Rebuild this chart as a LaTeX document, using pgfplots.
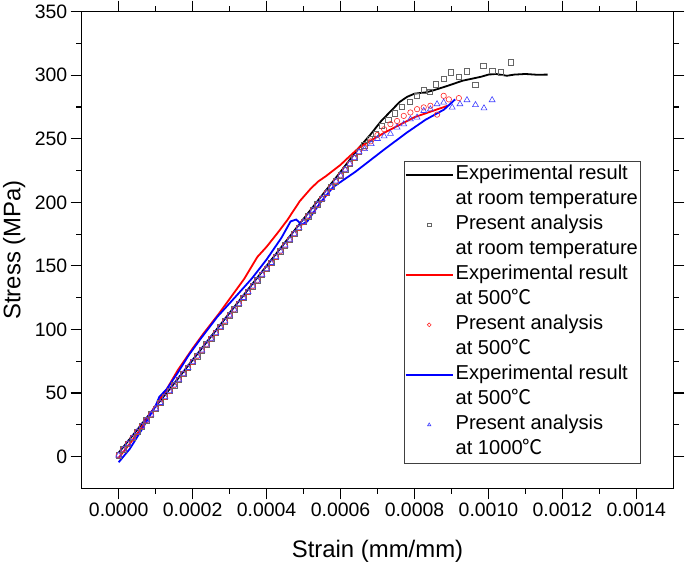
\documentclass[border=0pt]{standalone}
\usepackage{pgfplots}
\pgfplotsset{compat=1.18}
\usepackage{pgfplotstable}
\usepackage{fontspec}
\setmainfont{Liberation Sans}
\newfontfamily\cjk{Noto Sans CJK SC}
\newcommand{\degC}{{\cjk ℃}}

% Experimental result at room temperature
\pgfplotstableread{
x y
0 3
0.00005 21
0.0001 39.5
0.00015 57.5
0.0002 76
0.00025 94.5
0.0003 113
0.00035 131.5
0.0004 150
0.00045 168.5
0.0005 187
0.00055 205.5
0.0006 224
0.00065 243
0.00068 253
0.00071 264
0.00073 270
0.00076 279
0.00078 283
0.0008 285.5
0.00083 286.5
0.00085 288
0.00089 291.7
0.00093 295.7
0.00098 298.8
0.001 300.5
0.00102 301
0.00105 299.6
0.00107 300.5
0.0011 301
0.00113 300.4
0.00116 300.5
}\expRT

% Experimental result at 500 C (red)
\pgfplotstableread{
x y
0 -1
0.00003 10
0.00006 22
0.0001 40
0.00013 53
0.00016 68
0.0002 85
0.00023 97
0.00027 112
0.00031 128
0.00034 140
0.000375 157
0.0004 165
0.00043 176
0.000456 186
0.00049 201
0.00052 211
0.00054 216.5
0.00056 220.5
0.00058 225
0.0006 229.5
0.00062 235
0.00065 243
0.00069 250
0.00072 255
0.00076 261
0.0008 267
0.00084 271
0.00089 276
}\expFive

% Experimental result (blue)
\pgfplotstableread{
x y
0 -4.5
0.00003 6
0.00006 20
0.0001 40
0.00011 47
0.00013 53
0.00016 66
0.00019 80
0.00022 92
0.000267 110
0.00032 127
0.00036 140
0.0004 155
0.00044 172
0.000465 185
0.00048 186.5
0.000495 182.5
0.00051 185
0.000546 200
0.00058 212
0.00061 218
0.00064 224
0.00068 233
0.00072 242
0.00078 255
0.00083 265
0.00088 273
0.00091 281
}\expThou

% Present analysis, common linear part
\pgfplotstableread{
x y
0 1.0
0.0000125 5.6
0.000025 10.2
0.0000375 14.8
0.00005 19.4
0.0000625 23.9
0.000075 28.5
0.0000875 33.1
0.0001 37.7
0.0001125 42.3
0.000125 46.9
0.0001375 51.5
0.00015 56.1
0.0001625 60.6
0.000175 65.2
0.0001875 69.8
0.0002 74.4
0.0002125 79.0
0.000225 83.6
0.0002375 88.2
0.00025 92.8
0.0002625 97.3
0.000275 101.9
0.0002875 106.5
0.0003 111.1
0.0003125 115.7
0.000325 120.3
0.0003375 124.9
0.00035 129.5
0.0003625 134.0
0.000375 138.6
0.0003875 143.2
0.0004 147.8
0.0004125 152.4
0.000425 157.0
0.0004375 161.6
0.00045 166.2
0.0004625 170.7
0.000475 175.3
0.0004875 179.9
0.0005 184.5
0.0005125 189.1
0.000525 193.7
0.0005375 198.3
0.00055 202.9
0.0005625 207.4
0.000575 212.0
0.0005875 216.6
0.0006 221.2
0.0006125 225.8
0.000625 230.4
0.0006375 235.0
0.00065 239.6
}\presLin

\pgfplotstableread{
x y
0.000664 245
0.000679 250
0.000695 254
0.000712 260
0.000729 265
0.000747 270
0.000766 275
0.000787 279
0.000807 284
0.000825 288
0.000841 287
0.000857 293
0.000879 297
0.000899 302.4
0.00092 298.8
0.000941 303
0.000965 292.5
0.000986 307.5
0.00101 303.6
0.001034 302.4
0.00106 310.2
}\presRT

\pgfplotstableread{
x y
0.000665 243
0.000682 248
0.0007 253
0.000718 257.5
0.000735 261.5
0.000753 264
0.000771 268
0.000789 270.7
0.000807 273.3
0.000825 274.7
0.000843 276
0.000861 269
0.000879 283.8
0.000893 281
0.00092 282
}\presFive

\pgfplotstableread{
x y
0.000665 242
0.000683 246
0.0007 250
0.000718 252
0.000735 254
0.000753 259
0.000771 261.5
0.000789 265.4
0.000807 266.8
0.000825 272
0.000843 273.3
0.000861 277.3
0.000879 278.6
0.000902 274.7
0.000923 277.3
0.000942 280.5
0.000965 276.7
0.000988 274.1
0.00101 280.5
}\presThou

\begin{document}
\begin{tikzpicture}
\path[use as bounding box] (0,0) rectangle (685bp,566bp);
\begin{axis}[
  at={(81.7bp,77.7bp)}, anchor=south west,
  scale only axis, width=591.6bp, height=476.6bp,
  xmin=-0.0001, xmax=0.0015, ymin=-25, ymax=350,
  xtick={0,0.0002,0.0004,0.0006,0.0008,0.001,0.0012,0.0014},
  xticklabels={0.0000,0.0002,0.0004,0.0006,0.0008,0.0010,0.0012,0.0014},
  ytick={0,50,100,150,200,250,300,350},
  minor x tick num=1, minor y tick num=1,
  tick align=outside,
  major tick length=11bp, minor tick length=5.5bp,
  tick style={black, line width=1.2bp},
  axis line style={line width=1.2bp},
  tick label style={font=\fontsize{19.5}{22}\selectfont},
  label style={font=\fontsize{24}{28}\selectfont},
  xlabel={Strain (mm/mm)}, ylabel={Stress (MPa)},
  xlabel style={at={(axis description cs:0.5,-0.1462)}, anchor=base},
  ylabel style={at={(axis description cs:-0.1038,0.5)}, anchor=base, rotate=0},
  /pgf/number format/assume math mode=true,
  scaled x ticks=false,
  legend cell align=left,
  legend style={at={(0.5448,0.6867)}, anchor=north west, draw=black!75, line width=0.6bp,
    font=\fontsize{20.2}{25}\selectfont, inner xsep=0.5bp, inner ysep=1bp, row sep=0pt,
    nodes={inner sep=2bp, text height=15bp, text depth=6bp}},
  legend image code/.code={\draw[mark repeat=2,mark phase=2,#1,mark size=1.9bp] plot coordinates {(0bp,0bp) (23.5bp,0bp) (47bp,0bp)};},
]
\addplot[black, line width=1.8bp] table {\expRT};
\addlegendentry{Experimental result}
\addlegendimage{empty legend}
\addlegendentry{at room temperature}
\addplot[only marks, mark=square, mark size=2.7bp, black!60, mark options={line width=0.6bp}] table {\presRT};
\addlegendentry{Present analysis}
\addlegendimage{empty legend}
\addlegendentry{at room temperature}
\addplot[red, line width=1.8bp] table {\expFive};
\addlegendentry{Experimental result}
\addlegendimage{empty legend}
\addlegendentry{at 500\degC}
\addplot[only marks, mark=o, mark size=2.7bp, red!85, mark options={line width=0.6bp}] table {\presFive};
\addlegendentry{Present analysis}
\addlegendimage{empty legend}
\addlegendentry{at 500\degC}
\addplot[blue, line width=1.8bp] table {\expThou};
\addlegendentry{Experimental result}
\addlegendimage{empty legend}
\addlegendentry{at 500\degC}
\addplot[only marks, mark=triangle, mark size=3.4bp, blue!75, mark options={line width=0.6bp}] table {\presThou};
\addlegendentry{Present analysis}
\addlegendimage{empty legend}
\addlegendentry{at 1000\degC}
\addplot[only marks, mark=square, mark size=2.7bp, black!60, mark options={line width=0.6bp}, forget plot] table {\presLin};
\addplot[only marks, mark=o, mark size=2.7bp, red!85, mark options={line width=0.6bp}, forget plot] table {\presLin};
\addplot[only marks, mark=triangle, mark size=3.4bp, blue!75, mark options={line width=0.6bp}, forget plot] table {\presLin};
\end{axis}
\end{tikzpicture}
\end{document}
